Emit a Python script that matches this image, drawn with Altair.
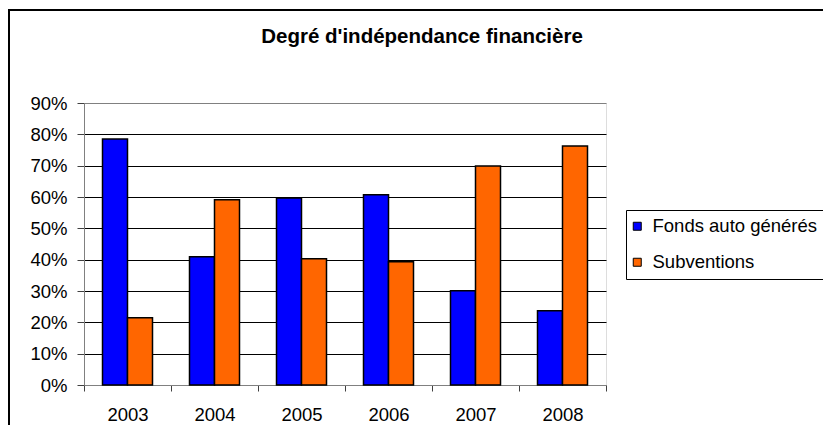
import altair as alt
import pandas as pd

years = ["2003", "2004", "2005", "2006", "2007", "2008"]
fonds = [0.785, 0.409, 0.597, 0.607, 0.301, 0.237]
subventions = [0.215, 0.591, 0.403, 0.393, 0.699, 0.763]
series = ["Fonds auto générés", "Subventions"]
colors = ["#0000FF", "#FF6600"]
y_ticks = [0, 0.1, 0.2, 0.3, 0.4, 0.5, 0.6, 0.7, 0.8, 0.9]
title_text = "Degré d'indépendance financière"

rows = []
for i, yr in enumerate(years):
    rows.append({"year": yr, "series": series[0], "value": fonds[i]})
    rows.append({"year": yr, "series": series[1], "value": subventions[i]})
df = pd.DataFrame(rows)

FONT = "Liberation Sans"

border = alt.Chart(pd.DataFrame({"k": [0]})).mark_rect(
    fillOpacity=0, stroke="black", strokeWidth=2
).encode(
    x=alt.value(-75), x2=alt.value(900), y=alt.value(-93), y2=alt.value(600)
)

bars = alt.Chart(df).mark_bar(stroke="black", strokeWidth=1.5).encode(
    x=alt.X(
        "year:N",
        sort=years,
        scale=alt.Scale(paddingInner=0, paddingOuter=0),
        axis=alt.Axis(
            title=None, labelAngle=0, tickBand="extent", grid=False,
            domainColor="#808080", tickColor="#404040", tickSize=6,
            labelPadding=14, labelFontSize=18.5, labelColor="black", labelFont=FONT,
        ),
    ),
    xOffset=alt.XOffset(
        "series:N",
        scale=alt.Scale(domain=series, paddingInner=0, paddingOuter=0.74),
    ),
    y=alt.Y(
        "value:Q",
        scale=alt.Scale(domain=[0, 0.9], nice=False),
        axis=alt.Axis(
            title=None, values=y_ticks, format=".0%",
            domainColor="#808080", tickColor="#404040", tickSize=7,
            labelPadding=10, labelFontSize=18.5, labelColor="black", labelFont=FONT,
            gridColor={"condition": {"test": "datum.value >= 0.89 || datum.value <= 0.001", "value": "#808080"}, "value": "black"},
            gridWidth=1,
        ),
    ),
    color=alt.Color(
        "series:N",
        scale=alt.Scale(domain=series, range=colors),
        legend=alt.Legend(
            title=None, orient="none", legendX=542, legendY=107,
            symbolType="square", symbolSize=64, symbolStrokeColor="black",
            symbolStrokeWidth=1, symbolOpacity=1, labelLimit=400,
            symbolOffset=-5,
            labelFontSize=18.5, labelFont=FONT, labelColor="black", labelOffset=6,
            rowPadding=17, padding=7, strokeColor="black", fillColor="white",
        ),
    ),
)

chart = alt.layer(border, bars).properties(
    width=522,
    height=282,
    autosize=alt.AutoSizeParams(type="none"),
    padding={"left": 76, "top": 95, "right": 217, "bottom": 40},
    title=alt.TitleParams(
        text=title_text, fontSize=20.5, fontWeight="bold", font=FONT, color="black",
        anchor="middle", frame="group", dx=77, offset=-54, baseline="alphabetic",
    ),
).configure_view(
    fill="#C0C0C0", stroke="#808080", strokeWidth=1
).configure(font=FONT, background="white")

chart.save("out.html", embed_options={"renderer": "svg", "actions": False})
